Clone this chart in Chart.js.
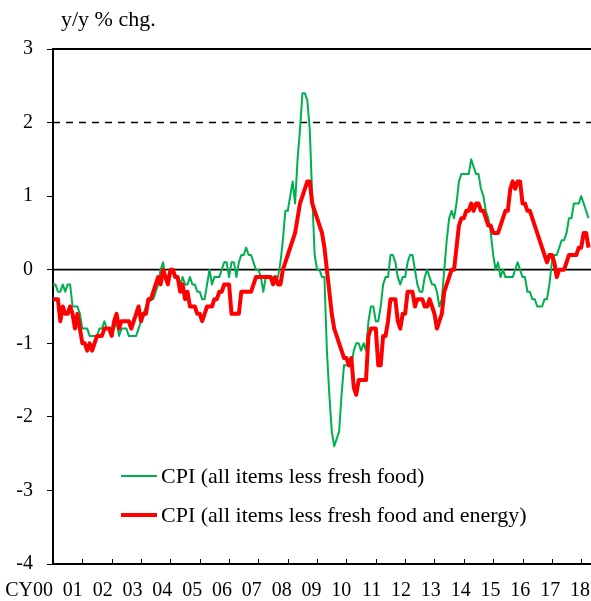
<!DOCTYPE html>
<html>
<head>
<meta charset="utf-8">
<script src="https://cdn.jsdelivr.net/npm/chart.js@4.4.1/dist/chart.umd.min.js"></script>
<style>
  html, body { margin: 0; padding: 0; background: #fff; }
  #wrap { width: 591px; height: 601px; }
</style>
</head>
<body>
<div id="wrap"><canvas id="cpiChart" width="591" height="601"></canvas></div>
<script>
// monthly y/y % chg., Jan 2000 .. Apr 2018
const cpiLessFreshFood = [
  -0.2, -0.2, -0.3, -0.3, -0.2, -0.3, -0.2, -0.2, -0.5, -0.5, -0.5, -0.6, // 00
  -0.8, -0.8, -0.8, -0.9, -0.9, -0.9, -0.9, -0.8, -0.8, -0.7, -0.8, -0.8, // 01
  -0.8, -0.8, -0.7, -0.9, -0.8, -0.8, -0.8, -0.9, -0.9, -0.9, -0.9, -0.8, // 02
  -0.7, -0.6, -0.5, -0.4, -0.4, -0.4, -0.3, -0.2, 0.0, 0.1, -0.1, -0.1,   // 03
  0.0, 0.0, -0.1, -0.1, -0.2, -0.1, -0.2, -0.2, -0.1, -0.2, -0.2, -0.3,   // 04
  -0.3, -0.4, -0.4, -0.2, 0.0, -0.2, -0.1, -0.1, -0.1, 0.0, 0.1, 0.1,     // 05
  -0.1, 0.1, 0.1, -0.1, 0.1, 0.2, 0.2, 0.3, 0.2, 0.2, 0.1, 0.0,           // 06
  0.0, -0.1, -0.3, -0.1, -0.1, -0.1, -0.1, -0.1, -0.1, 0.1, 0.4, 0.8,     // 07
  0.8, 1.0, 1.2, 0.9, 1.5, 1.9, 2.4, 2.4, 2.3, 1.9, 1.0, 0.2,             // 08
  0.0, 0.0, -0.1, -0.1, -1.1, -1.7, -2.2, -2.4, -2.3, -2.2, -1.7, -1.3,   // 09
  -1.3, -1.3, -1.3, -1.1, -1.0, -1.0, -1.1, -1.0, -1.1, -0.7, -0.5, -0.5, // 10
  -0.7, -0.7, -0.5, -0.2, -0.1, -0.1, 0.2, 0.2, 0.1, -0.1, -0.2, -0.1,   // 11
  -0.1, 0.1, 0.2, 0.2, 0.0, -0.2, -0.3, -0.3, -0.1, 0.0, -0.1, -0.2,     // 12
  -0.2, -0.3, -0.5, -0.4, 0.0, 0.4, 0.7, 0.8, 0.7, 0.9, 1.2, 1.3,         // 13
  1.3, 1.3, 1.3, 1.5, 1.4, 1.3, 1.3, 1.1, 1.0, 0.8, 0.7, 0.5,             // 14
  0.2, 0.0, 0.1, -0.1, 0.0, -0.1, -0.1, -0.1, -0.1, 0.0, 0.1, 0.0,       // 15
  -0.1, -0.1, -0.3, -0.3, -0.4, -0.4, -0.5, -0.5, -0.5, -0.4, -0.4, -0.2, // 16
  0.1, 0.2, 0.2, 0.3, 0.4, 0.4, 0.5, 0.7, 0.7, 0.9, 0.9, 0.9,             // 17
  1.0, 0.9, 0.8, 0.7                                                      // 18
];

const cpiLessFreshFoodEnergy = [
  -0.4, -0.4, -0.4, -0.7, -0.5, -0.6, -0.6, -0.5, -0.6, -0.8, -0.6, -0.8, // 00
  -1.0, -1.0, -1.1, -1.0, -1.1, -1.0, -0.9, -0.9, -0.9, -0.8, -0.8, -0.8, // 01
  -0.9, -0.7, -0.6, -0.8, -0.7, -0.7, -0.7, -0.7, -0.8, -0.7, -0.6, -0.5, // 02
  -0.7, -0.6, -0.6, -0.4, -0.4, -0.3, -0.2, -0.1, -0.2, 0.0, -0.1, -0.2,  // 03
  0.0, 0.0, -0.1, -0.1, -0.3, -0.2, -0.4, -0.3, -0.5, -0.5, -0.5, -0.6,   // 04
  -0.6, -0.7, -0.6, -0.5, -0.5, -0.5, -0.4, -0.4, -0.3, -0.3, -0.2, -0.2, // 05
  -0.2, -0.6, -0.6, -0.6, -0.6, -0.3, -0.3, -0.3, -0.3, -0.3, -0.2, -0.1, // 06
  -0.1, -0.1, -0.1, -0.1, -0.1, -0.1, -0.2, -0.1, -0.2, -0.2, 0.0, 0.1,   // 07
  0.2, 0.3, 0.4, 0.5, 0.7, 0.9, 1.0, 1.1, 1.2, 1.2, 0.9, 0.8,             // 08
  0.7, 0.6, 0.5, 0.3, 0.0, -0.3, -0.6, -0.8, -0.9, -1.0, -1.1, -1.2,     // 09
  -1.2, -1.3, -1.2, -1.6, -1.7, -1.5, -1.5, -1.5, -1.5, -0.9, -0.8, -0.8, // 10
  -0.8, -1.3, -1.3, -0.9, -0.9, -0.7, -0.4, -0.4, -0.4, -0.7, -0.8, -0.6, // 11
  -0.6, -0.3, -0.3, -0.3, -0.5, -0.4, -0.4, -0.4, -0.5, -0.5, -0.4, -0.5, // 12
  -0.6, -0.8, -0.7, -0.6, -0.3, -0.2, -0.1, 0.0, 0.0, 0.3, 0.6, 0.7,     // 13
  0.7, 0.8, 0.8, 0.9, 0.8, 0.9, 0.9, 0.8, 0.8, 0.7, 0.6, 0.6,             // 14
  0.5, 0.5, 0.5, 0.6, 0.7, 0.8, 0.8, 1.1, 1.2, 1.1, 1.2, 1.2,             // 15
  0.9, 0.9, 0.8, 0.8, 0.7, 0.6, 0.5, 0.4, 0.3, 0.2, 0.1, 0.2,             // 16
  0.2, 0.1, -0.1, 0.0, 0.0, 0.0, 0.1, 0.2, 0.2, 0.2, 0.2, 0.3,           // 17
  0.3, 0.5, 0.5, 0.3                                                      // 18
];

const yearLabels = ['CY00', '01', '02', '03', '04', '05', '06', '07', '08', '09',
                    '10', '11', '12', '13', '14', '15', '16', '17', '18'];
const seriesNames = ['CPI (all items less fresh food)', 'CPI (all items less fresh food and energy)'];
const yTitle = 'y/y % chg.';
const refLevels = { top: 3, target: 2, zero: 0 };

const FONT_FAMILY = '"Liberation Serif", "Times New Roman", serif';
const GREEN = '#00b050';
const RED = '#ff0000';
const N_MONTHS = 220;

const toPoints = arr => arr.map((v, i) => ({ x: i, y: v }));
const flatLine = v => [{ x: 0, y: v }, { x: N_MONTHS, y: v }];

// year ticks, year labels, unit title and legend
const decor = {
    id: 'decor',
    afterDraw(chart) {
        const { ctx, chartArea, scales: { x } } = chart;
        ctx.save();

        ctx.strokeStyle = '#000';
        ctx.lineWidth = 1;
        for (let k = 1; k < yearLabels.length; k++) {
            const px = Math.round(x.getPixelForValue(k * 12)) + 0.5;
            ctx.beginPath();
            ctx.moveTo(px, chartArea.bottom);
            ctx.lineTo(px, chartArea.bottom - 5);
            ctx.stroke();
        }

        ctx.font = '20px ' + FONT_FAMILY;
        ctx.fillStyle = '#000';
        ctx.textAlign = 'right';
        ctx.textBaseline = 'alphabetic';
        yearLabels.forEach((lab, k) => {
            ctx.fillText(lab, x.getPixelForValue(k * 12.2), 596);
        });

        ctx.font = '22px ' + FONT_FAMILY;
        ctx.textAlign = 'left';
        ctx.fillText(yTitle, 61, 26);

        // legend
        const items = chart.data.datasets.filter(d => seriesNames.includes(d.label));
        items.sort((a, b) => seriesNames.indexOf(a.label) - seriesNames.indexOf(b.label));
        items.forEach((d, i) => {
            const ly = 476 + i * 39;
            ctx.strokeStyle = d.borderColor;
            ctx.lineWidth = d.borderWidth;
            ctx.beginPath();
            ctx.moveTo(121, ly);
            ctx.lineTo(157, ly);
            ctx.stroke();
            ctx.textBaseline = 'middle';
            ctx.fillText(d.label, 161, ly + 1);
        });

        ctx.restore();
    }
};

new Chart(document.getElementById('cpiChart'), {
    type: 'line',
    data: {
        datasets: [
            {
                label: seriesNames[1],
                data: toPoints(cpiLessFreshFoodEnergy),
                borderColor: RED,
                borderWidth: 4,
                order: 0
            },
            {
                label: seriesNames[0],
                data: toPoints(cpiLessFreshFood),
                borderColor: GREEN,
                borderWidth: 2,
                order: 1
            },
            {
                label: 'zero',
                data: flatLine(refLevels.zero),
                borderColor: '#000',
                borderWidth: 1.8,
                order: 2
            },
            {
                label: 'target',
                data: flatLine(refLevels.target),
                borderColor: '#000',
                borderWidth: 1.5,
                borderDash: [7, 6],
                order: 2
            },
            {
                label: 'top',
                data: flatLine(refLevels.top),
                borderColor: '#000',
                borderWidth: 2,
                clip: false,
                order: 2
            }
        ]
    },
    options: {
        responsive: false,
        animation: false,
        devicePixelRatio: 1,
        elements: {
            point: { radius: 0, hoverRadius: 0 },
            line: { tension: 0, borderJoinStyle: 'round', fill: false }
        },
        layout: { padding: { top: 49, right: 0, left: 0, bottom: 0 } },
        plugins: {
            legend: { display: false },
            tooltip: { enabled: false }
        },
        scales: {
            x: {
                type: 'linear',
                min: 0,
                max: N_MONTHS,
                ticks: { display: false },
                grid: { display: false },
                border: { display: true, color: '#000', width: 2 },
                afterFit: s => { s.height = 37; }
            },
            y: {
                min: -4,
                max: 3,
                ticks: {
                    stepSize: 1,
                    color: '#000',
                    padding: 14,
                    font: { family: FONT_FAMILY, size: 20 }
                },
                grid: { drawOnChartArea: false, drawTicks: true, tickLength: 6, color: '#000', lineWidth: 1 },
                border: { display: true, color: '#000', width: 2 },
                afterFit: s => { s.width = 53; }
            }
        }
    },
    plugins: [decor]
});
</script>
</body>
</html>
